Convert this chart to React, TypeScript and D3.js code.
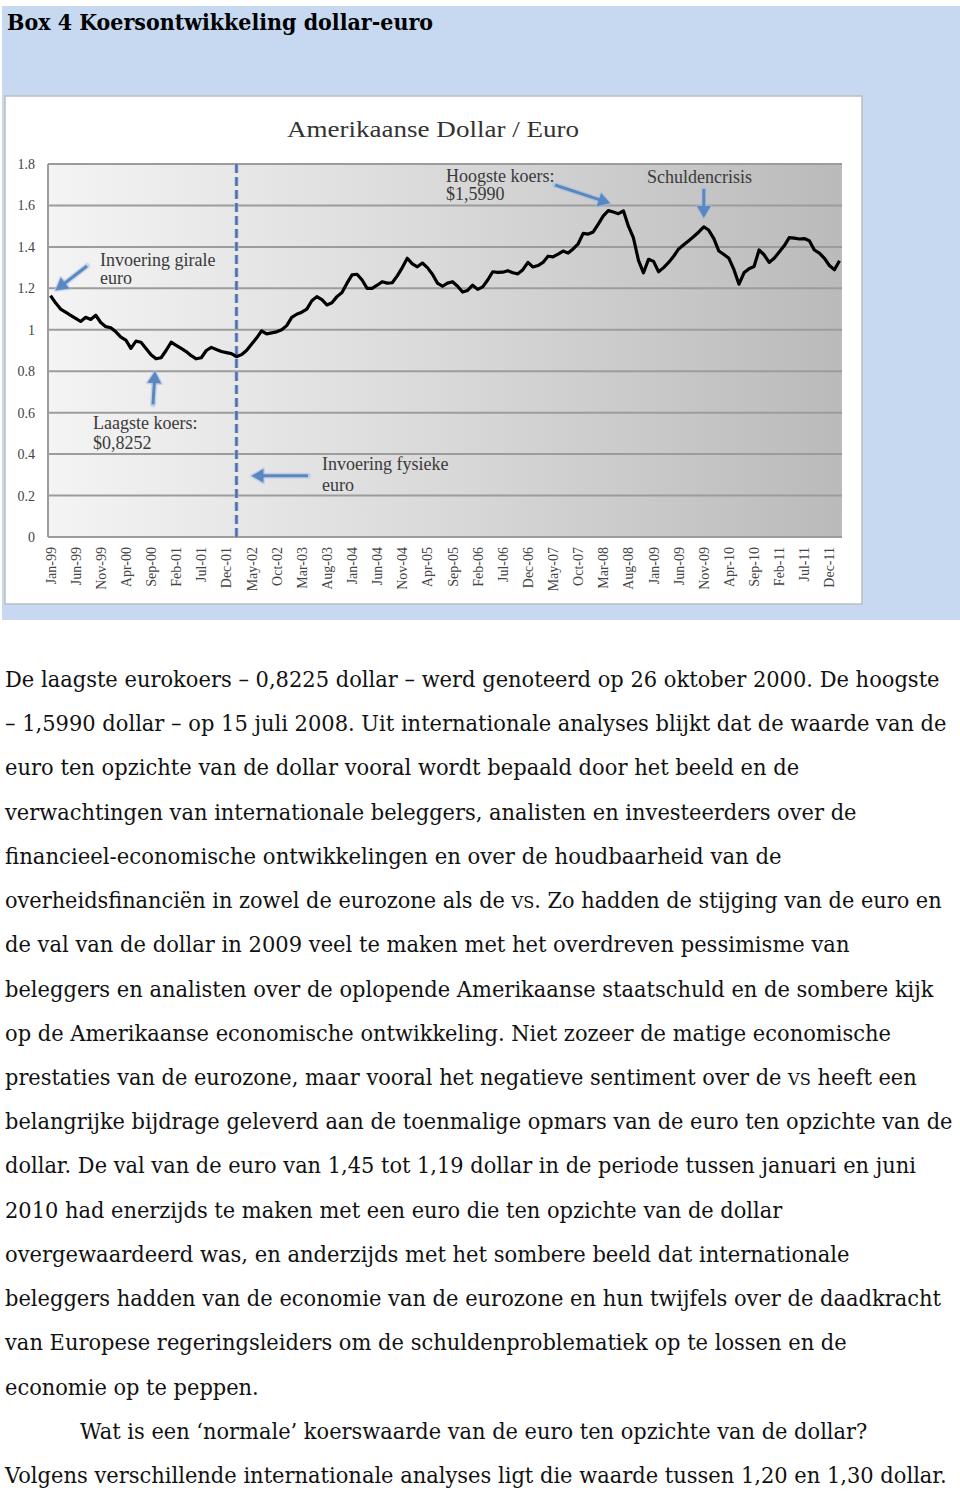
import React, { useLayoutEffect, useRef, useState } from 'react';
import * as d3 from 'd3';

// ---------- DATA ----------
const months: string[] = d3
  .timeMonths(new Date(1999, 0, 1), new Date(2012, 2, 1))
  .map(d3.timeFormat('%b-%y'));

const usdPerEuro: number[] = [
  1.165, 1.13, 1.1, 1.085, 1.07, 1.055, 1.04, 1.06, 1.05, 1.07, 1.035, 1.015,
  1.01, 0.99, 0.965, 0.95, 0.91, 0.945, 0.94, 0.91, 0.88, 0.86, 0.865, 0.9,
  0.94, 0.925, 0.91, 0.895, 0.875, 0.86, 0.865, 0.9, 0.915, 0.905, 0.895, 0.89,
  0.885, 0.87, 0.88, 0.9, 0.93, 0.96, 0.995, 0.98, 0.985, 0.99, 1.0, 1.02,
  1.06, 1.075, 1.085, 1.1, 1.14, 1.16, 1.145, 1.12, 1.13, 1.16, 1.18, 1.225,
  1.265, 1.268, 1.24, 1.2, 1.2, 1.215, 1.232, 1.225, 1.227, 1.26, 1.3, 1.345,
  1.318, 1.304, 1.322, 1.3, 1.268, 1.225, 1.21, 1.225, 1.232, 1.21, 1.182, 1.19,
  1.215, 1.195, 1.207, 1.24, 1.28, 1.277, 1.278, 1.285, 1.275, 1.27, 1.29, 1.325,
  1.303, 1.31, 1.325, 1.355, 1.352, 1.365, 1.38, 1.37, 1.39, 1.415, 1.465, 1.462,
  1.472, 1.51, 1.55, 1.575, 1.568, 1.56, 1.574, 1.5, 1.443, 1.335, 1.275, 1.34,
  1.33, 1.28, 1.3, 1.325, 1.355, 1.39, 1.41, 1.43, 1.45, 1.472, 1.497, 1.48,
  1.44, 1.38, 1.363, 1.345, 1.29, 1.22, 1.275, 1.295, 1.305, 1.385, 1.362, 1.325,
  1.345, 1.375, 1.405, 1.445, 1.442, 1.438, 1.44, 1.43, 1.385, 1.37, 1.345, 1.31,
  1.29, 1.333,
];

const xTickLabels: string[] = [
  'Jan-99', 'Jun-99', 'Nov-99', 'Apr-00', 'Sep-00', 'Feb-01', 'Jul-01', 'Dec-01',
  'May-02', 'Oct-02', 'Mar-03', 'Aug-03', 'Jan-04', 'Jun-04', 'Nov-04', 'Apr-05',
  'Sep-05', 'Feb-06', 'Jul-06', 'Dec-06', 'May-07', 'Oct-07', 'Mar-08', 'Aug-08',
  'Jan-09', 'Jun-09', 'Nov-09', 'Apr-10', 'Sep-10', 'Feb-11', 'Jul-11', 'Dec-11',
];

const yTicks: number[] = [0, 0.2, 0.4, 0.6, 0.8, 1, 1.2, 1.4, 1.6, 1.8];
const yTickLabels: string[] = ['0', '0.2', '0.4', '0.6', '0.8', '1', '1.2', '1.4', '1.6', '1.8'];

const physicalEuroMonth = 'Feb-02';

const boxTitle = 'Box 4 Koersontwikkeling dollar-euro';
const chartTitle = 'Amerikaanse Dollar / Euro';

const bodyLines: string[] = [
  'De laagste eurokoers – 0,8225 dollar – werd genoteerd op 26 oktober 2000. De hoogste',
  '– 1,5990 dollar – op 15 juli 2008. Uit internationale analyses blijkt dat de waarde van de',
  'euro ten opzichte van de dollar vooral wordt bepaald door het beeld en de',
  'verwachtingen van internationale beleggers, analisten en investeerders over de',
  'financieel-economische ontwikkelingen en over de houdbaarheid van de',
  'overheidsfinanciën in zowel de eurozone als de VS. Zo hadden de stijging van de euro en',
  'de val van de dollar in 2009 veel te maken met het overdreven pessimisme van',
  'beleggers en analisten over de oplopende Amerikaanse staatschuld en de sombere kijk',
  'op de Amerikaanse economische ontwikkeling. Niet zozeer de matige economische',
  'prestaties van de eurozone, maar vooral het negatieve sentiment over de VS heeft een',
  'belangrijke bijdrage geleverd aan de toenmalige opmars van de euro ten opzichte van de',
  'dollar. De val van de euro van 1,45 tot 1,19 dollar in de periode tussen januari en juni',
  '2010 had enerzijds te maken met een euro die ten opzichte van de dollar',
  'overgewaardeerd was, en anderzijds met het sombere beeld dat internationale',
  'beleggers hadden van de economie van de eurozone en hun twijfels over de daadkracht',
  'van Europese regeringsleiders om de schuldenproblematiek op te lossen en de',
  'economie op te peppen.',
  'Wat is een ‘normale’ koerswaarde van de euro ten opzichte van de dollar?',
  'Volgens verschillende internationale analyses ligt die waarde tussen 1,20 en 1,30 dollar.',
];

// ---------- LAYOUT ----------
const W = 960;
const H = 1491;
const plot = { left: 48, right: 842, top: 164, bottom: 537 };
const bodyStarts = [5, 5, 5, 5, 5, 5, 5, 5, 5, 5, 5, 5, 5, 5, 5, 5, 5, 80, 5];
const bodyEnds = [940, 947, 800, 857, 782, 942, 850, 934, 891, 917, 953, 916, 783, 850, 941, 847, 259, 868, 947];

const serif = "'Liberation Serif', 'Times New Roman', serif";
const bodyFont = "'DejaVu Serif', serif";
const arrowColor = '#5b87c1';

function renderLine(text: string) {
  const parts = text.split('VS');
  const out: React.ReactNode[] = [];
  parts.forEach((p, i) => {
    out.push(p);
    if (i < parts.length - 1) out.push(<tspan key={'v' + i} fontSize={17}>VS</tspan>);
  });
  return out;
}

function Arrow({ x1, y1, x2, y2 }: { x1: number; y1: number; x2: number; y2: number }) {
  const a = Math.atan2(y2 - y1, x2 - x1);
  const len = 12;
  const hw = 7;
  const bx = x2 - len * Math.cos(a);
  const by = y2 - len * Math.sin(a);
  const px = -Math.sin(a);
  const py = Math.cos(a);
  const head = `M${x2},${y2} L${bx + hw * px},${by + hw * py} L${bx - hw * px},${by - hw * py} Z`;
  return (
    <g>
      <line x1={x1} y1={y1} x2={bx} y2={by} stroke="#a8c0e2" strokeWidth={6} strokeOpacity={0.55} strokeLinecap="round" />
      <path d={head} fill="#a8c0e2" fillOpacity={0.55} stroke="#a8c0e2" strokeOpacity={0.55} strokeWidth={3} strokeLinejoin="round" />
      <line x1={x1} y1={y1} x2={bx + 1 * Math.cos(a)} y2={by + 1 * Math.sin(a)} stroke={arrowColor} strokeWidth={3} />
      <path d={head} fill={arrowColor} />
    </g>
  );
}

export default function App() {
  const x = d3.scalePoint<string>().domain(months).range([plot.left, plot.right]).padding(0.5);
  const y = d3.scaleLinear().domain([0, 1.8]).range([plot.bottom, plot.top]);

  const line = d3
    .line<number>()
    .x((_, i) => x(months[i]) as number)
    .y((d) => y(d))
    .curve(d3.curveLinear);

  const xd = x(physicalEuroMonth) as number;

  const arrows = [
    { x1: 87, y1: 266, x2: (x('Jan-99') as number) + 5, y2: y(1.19) },
    { x1: 153, y1: y(0.64), x2: 155, y2: y(0.8) },
    { x1: 308, y1: y(0.295), x2: xd + 15, y2: y(0.295) },
    { x1: 555, y1: 185, x2: (x('Apr-08') as number) + 2, y2: y(1.61) },
    { x1: x('Nov-09') as number, y1: y(1.68), x2: x('Nov-09') as number, y2: y(1.54) },
  ];

  const textRefs = useRef<(SVGTextElement | null)[]>([]);
  const [scales, setScales] = useState<number[]>(bodyLines.map(() => 1));
  useLayoutEffect(() => {
    setScales(
      textRefs.current.map((el, i) => {
        if (!el) return 1;
        const w = el.getComputedTextLength();
        return w > 0 ? (bodyEnds[i] - bodyStarts[i]) / w : 1;
      })
    );
  }, []);

  const annFont = { fontFamily: serif, fontSize: 18, fill: '#3a3a3a' };

  return (
    <svg
      width={W}
      height={H}
      style={{ position: 'absolute', left: 0, top: 0, display: 'block' }}
      xmlns="http://www.w3.org/2000/svg"
    >
      <defs>
        <linearGradient id="plotBg" x1="0" x2="1" y1="0" y2="0">
          <stop offset="0%" stopColor="#f4f4f4" />
          <stop offset="50%" stopColor="#d9d9d9" />
          <stop offset="100%" stopColor="#bababa" />
        </linearGradient>
      </defs>
      <rect x={0} y={0} width={W} height={H} fill="#ffffff" />
      {/* blue box */}
      <rect x={2} y={6} width={958} height={614} fill="#c6d9f0" />
      <text
        x={7}
        y={30}
        fontFamily={bodyFont}
        fontWeight="bold"
        fontSize={23}
        textLength={426}
        lengthAdjust="spacingAndGlyphs"
        fill="#000"
      >
        {boxTitle}
      </text>
      {/* chart panel */}
      <rect x={5} y={96} width={857} height={508} fill="#ffffff" stroke="#bdbdbd" strokeWidth={1.5} />
      <text x={433} y={137} textAnchor="middle" fontFamily={serif} fontSize={23} fill="#333" textLength={292} lengthAdjust="spacingAndGlyphs">
        {chartTitle}
      </text>
      {/* plot area */}
      <rect
        x={plot.left}
        y={plot.top}
        width={plot.right - plot.left}
        height={plot.bottom - plot.top}
        fill="url(#plotBg)"
      />
      {yTicks.map((t) => (
        <line key={t} x1={plot.left} x2={plot.right} y1={y(t)} y2={y(t)} stroke="#9c9c9c" strokeWidth={2} />
      ))}
      <line x1={plot.left} x2={plot.left} y1={plot.top} y2={plot.bottom} stroke="#9c9c9c" strokeWidth={2} />
      {yTicks.map((t, i) => (
        <text key={'yl' + t} x={35} y={y(t) + 5} textAnchor="end" fontFamily={serif} fontSize={14} fill="#444">
          {yTickLabels[i]}
        </text>
      ))}
      {xTickLabels.map((m) => (
        <text
          key={m}
          transform={`translate(${(x(m) as number) + 5},547) rotate(-90)`}
          textAnchor="end"
          fontFamily={serif}
          fontSize={14}
          fill="#444"
        >
          {m}
        </text>
      ))}
      {/* physical euro dashed line */}
      <line x1={xd} x2={xd} y1={plot.top} y2={plot.bottom} stroke="#a8c0e2" strokeWidth={5} strokeOpacity={0.5} strokeDasharray="9,4" />
      <line x1={xd} x2={xd} y1={plot.top} y2={plot.bottom} stroke="#4a6fa8" strokeWidth={2.5} strokeDasharray="9,4" />
      {/* series */}
      <path d={line(usdPerEuro) as string} fill="none" stroke="#000" strokeWidth={3.2} strokeLinejoin="round" />
      {/* annotations */}
      {arrows.map((a, i) => (
        <Arrow key={'ar' + i} {...a} />
      ))}
      <text x={100} y={266} {...annFont}>Invoering girale</text>
      <text x={100} y={284} {...annFont}>euro</text>
      <text x={93} y={429} {...annFont}>Laagste koers:</text>
      <text x={93} y={449} {...annFont}>$0,8252</text>
      <text x={322} y={470} {...annFont}>Invoering fysieke</text>
      <text x={322} y={491} {...annFont}>euro</text>
      <text x={446} y={182} {...annFont}>Hoogste koers:</text>
      <text x={446} y={200} {...annFont}>$1,5990</text>
      <text x={647} y={183} {...annFont}>Schuldencrisis</text>
      {/* body text */}
      {bodyLines.map((t, i) => (
        <text
          key={'b' + i}
          ref={(el) => {
            textRefs.current[i] = el;
          }}
          transform={`translate(${bodyStarts[i]},${687 + i * 44.22}) scale(${scales[i]},1)`}
          fontFamily={bodyFont}
          fontSize={22}
          fill="#111"
        >
          {renderLine(t)}
        </text>
      ))}
    </svg>
  );
}
